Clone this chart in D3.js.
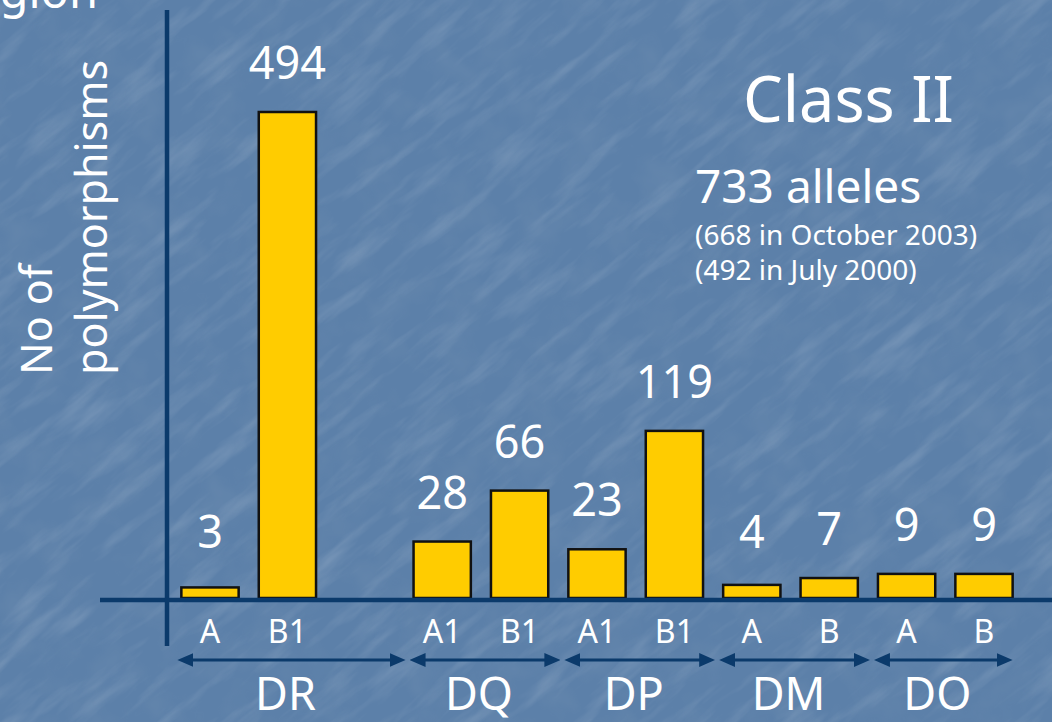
<!DOCTYPE html>
<html>
<head>
<meta charset="utf-8">
<script src="https://cdn.jsdelivr.net/npm/d3@7"></script>
<style>
  html, body { margin: 0; padding: 0; background: #5b7fa8; }
  svg { display: block; }
  text { font-family: "Noto Sans", "DejaVu Sans", sans-serif; fill: #ffffff; }
</style>
</head>
<body>
<svg id="chart" width="1052" height="722"></svg>
<script>
// Class II HLA loci: number of known polymorphisms per gene
const groups = ["DR", "DQ", "DP", "DM", "DO"];
const genes = ["A", "B1", "A1", "B1", "A1", "B1", "A", "B", "A", "B"];
const geneGroups = ["DR", "DR", "DQ", "DQ", "DP", "DP", "DM", "DM", "DO", "DO"];
const values = [3, 494, 28, 66, 23, 119, 4, 7, 9, 9];

const title = "Class II";
const summary = "733 alleles";
const history = ["(668 in October 2003)", "(492 in July 2000)"];
const yLabel = ["No of", "polymorphisms"];
const heading = "Region";

const W = 1052, H = 722;
const svg = d3.select("#chart");

// ---- textured blue backdrop ----
const defs = svg.append("defs");
const tex = defs.append("filter").attr("id", "paper")
  .attr("x", 0).attr("y", 0).attr("width", "100%").attr("height", "100%");
tex.append("feTurbulence").attr("type", "fractalNoise")
  .attr("baseFrequency", "0.012 0.06").attr("numOctaves", 4).attr("seed", 7);
tex.append("feColorMatrix").attr("type", "matrix")
  .attr("values", "0 0 0 0 1  0 0 0 0 1  0 0 0 0 1  1.6 0 0 0 -0.78");

const fine = defs.append("filter").attr("id", "grain")
  .attr("x", 0).attr("y", 0).attr("width", "100%").attr("height", "100%");
fine.append("feTurbulence").attr("type", "fractalNoise")
  .attr("baseFrequency", "0.025").attr("numOctaves", 3).attr("seed", 3);
fine.append("feColorMatrix").attr("type", "matrix")
  .attr("values", "0 0 0 0 0.22  0 0 0 0 0.33  0 0 0 0 0.48  0 0 0 -1.4 0.8");

svg.append("rect").attr("width", W).attr("height", H).attr("fill", "#5c80a9");
svg.append("g")
  .attr("transform", `translate(${W / 2},${H / 2}) rotate(-40)`)
  .append("rect")
  .attr("x", -900).attr("y", -900).attr("width", 1800).attr("height", 1800)
  .attr("filter", "url(#paper)").attr("opacity", 0.2);
svg.append("rect").attr("width", W).attr("height", H)
  .attr("filter", "url(#grain)").attr("opacity", 0.3);

// ---- scales ----
// one slot per gene, with an empty slot left after the DR pair
const gapAfter = new Set(["DR"]);
const slots = [];
groups.forEach(g => {
  genes.forEach((gene, i) => { if (geneGroups[i] === g) slots.push(g + " " + gene); });
  if (gapAfter.has(g)) slots.push(g + " gap");
});
const keys = genes.map((gene, i) => geneGroups[i] + " " + gene);

const x = d3.scaleBand().domain(slots).range([171.3, 1022.7])
  .paddingInner(0.26).paddingOuter(0.13);
const y = d3.scalePow().exponent(0.75).domain([0, 494]).range([598, 112]);

const axisColor = "#0b3a6b";

// ---- bars ----
svg.append("g").selectAll("rect").data(values).join("rect")
  .attr("x", (d, i) => x(keys[i]))
  .attr("width", x.bandwidth())
  .attr("y", d => y(d))
  .attr("height", d => y(0) - y(d))
  .attr("fill", "#ffcc00")
  .attr("stroke", "#111")
  .attr("stroke-width", 2.5);

// ---- axes ----
svg.append("line").attr("x1", 100).attr("x2", W).attr("y1", 600).attr("y2", 600)
  .attr("stroke", axisColor).attr("stroke-width", 4.5);
svg.append("line").attr("x1", 167).attr("x2", 167).attr("y1", 10).attr("y2", 646)
  .attr("stroke", axisColor).attr("stroke-width", 4.5);

// ---- value labels ----
svg.append("g").selectAll("text").data(values).join("text")
  .attr("x", (d, i) => x(keys[i]) + x.bandwidth() / 2)
  .attr("y", d => Math.min(y(d) - 33, 548))
  .attr("text-anchor", "middle")
  .attr("font-size", 45)
  .text(d => d);

// ---- gene labels ----
svg.append("g").selectAll("text").data(genes).join("text")
  .attr("x", (d, i) => x(keys[i]) + x.bandwidth() / 2)
  .attr("y", 643)
  .attr("text-anchor", "middle")
  .attr("font-size", 32)
  .text(d => d);

// ---- locus spans with double-headed arrows ----
const marker = (id, path) => defs.append("marker").attr("id", id)
  .attr("markerUnits", "userSpaceOnUse")
  .attr("viewBox", "0 0 16 14").attr("refX", 8).attr("refY", 7)
  .attr("markerWidth", 16).attr("markerHeight", 14)
  .attr("orient", "auto")
  .append("path").attr("d", path).attr("fill", axisColor);
marker("headEnd", "M0,0 L16,7 L0,14 Z");
marker("headStart", "M16,0 L0,7 L16,14 Z");

const spans = groups.map((g, gi) => {
  const idx = geneGroups.map((d, i) => d === g ? i : -1).filter(i => i >= 0);
  const x0 = x(keys[idx[0]]) - 4;
  const x1 = gi < groups.length - 1
    ? x(keys[geneGroups.indexOf(groups[gi + 1])]) - 8
    : x(keys[idx[idx.length - 1]]) + x.bandwidth();
  return { g, x0, x1 };
});

const spanG = svg.append("g");
spanG.selectAll("line").data(spans).join("line")
  .attr("x1", d => d.x0 + 8).attr("x2", d => d.x1 - 8)
  .attr("y1", 660).attr("y2", 660)
  .attr("stroke", axisColor).attr("stroke-width", 3)
  .attr("marker-start", "url(#headStart)")
  .attr("marker-end", "url(#headEnd)");
spanG.selectAll("text").data(spans).join("text")
  .attr("x", d => (d.x0 + d.x1) / 2 - 6)
  .attr("y", 710)
  .attr("text-anchor", "middle")
  .attr("font-size", 45)
  .text(d => d.g);

// ---- y-axis title ----
const yt = svg.append("text")
  .attr("transform", "translate(52,375) rotate(-90)")
  .attr("font-size", 43);
yt.selectAll("tspan").data(yLabel).join("tspan")
  .attr("x", 0).attr("dy", (d, i) => i === 0 ? 0 : 55)
  .text(d => d);

// ---- annotations ----
svg.append("text").attr("x", 743).attr("y", 122).attr("font-size", 63).text(title);
svg.append("text").attr("x", 695).attr("y", 203).attr("font-size", 46).text(summary);
svg.append("g").selectAll("text").data(history).join("text")
  .attr("x", 695).attr("y", (d, i) => 245 + i * 35)
  .attr("font-size", 28)
  .text(d => d);

// heading running off the top edge
svg.append("text").attr("x", 98).attr("y", 8).attr("text-anchor", "end")
  .attr("font-size", 47).text(heading);
</script>
</body>
</html>
